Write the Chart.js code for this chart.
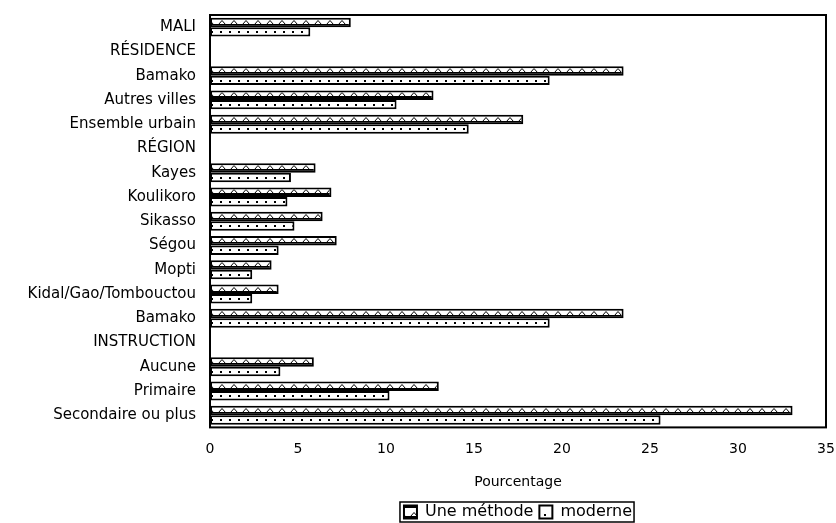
<!DOCTYPE html>
<html>
<head>
<meta charset="utf-8">
<script src="https://cdn.jsdelivr.net/npm/chart.js@4"></script>
<style>
  body { margin: 0; background: #fff; }
</style>
</head>
<body>
<canvas id="chart" width="836" height="523"></canvas>
<script>
// categories, de haut en bas
const categories = ['MALI', 'RÉSIDENCE', 'Bamako', 'Autres villes', 'Ensemble urbain', 'RÉGION',
    'Kayes', 'Koulikoro', 'Sikasso', 'Ségou', 'Mopti', 'Kidal/Gao/Tombouctou', 'Bamako',
    'INSTRUCTION', 'Aucune', 'Primaire', 'Secondaire ou plus'];

// pourcentages (null = ligne de titre)
const uneMethode = [8.0, null, 23.5, 12.7, 17.8, null, 6.0, 6.9, 6.4, 7.2, 3.5, 3.9, 23.5, null, 5.9, 13.0, 33.1];
const moderne = [5.7, null, 19.3, 10.6, 14.7, null, 4.6, 4.4, 4.8, 3.9, 2.4, 2.4, 19.3, null, 4.0, 10.2, 25.6];

const xTicks = [0, 5, 10, 15, 20, 25, 30, 35];

const FONT = 'DejaVu Sans';

// motif triangles pour "Une méthode"
function trianglePattern() {
    const c = document.createElement('canvas');
    c.width = 12; c.height = 10;
    const g = c.getContext('2d');
    g.fillStyle = '#fff';
    g.fillRect(0, 0, 12, 10);
    g.fillStyle = '#000';
    g.fillRect(0, 6, 12, 2);
    g.strokeStyle = '#000';
    g.lineWidth = 1;
    g.beginPath();
    g.moveTo(2.5, 6.5); g.lineTo(6, 2.5); g.lineTo(9.5, 6.5);
    g.stroke();
    return g.createPattern(c, 'repeat');
}

// motif pointillé pour "moderne"
function dotPattern() {
    const c = document.createElement('canvas');
    c.width = 9; c.height = 10;
    const g = c.getContext('2d');
    g.fillStyle = '#fff';
    g.fillRect(0, 0, 9, 10);
    g.fillStyle = '#000';
    g.fillRect(4, 4, 2, 2);
    return g.createPattern(c, 'repeat');
}

const patterns = [trianglePattern, dotPattern];

// recale chaque motif sur le haut de sa barre
const patternAlign = {
    id: 'patternAlign',
    afterLayout(chart) {
        // légende un peu plus bas, comme sur l'original
        chart.legend.top += 7;
        chart.legend.bottom += 7;
    },
    beforeDatasetsDraw(chart) {
        chart.data.datasets.forEach((ds, i) => {
            chart.getDatasetMeta(i).data.forEach(el => {
                if (el.x === undefined || !el.options) return;
                const p = patterns[i]();
                p.setTransform(new DOMMatrix().translate(0, Math.round(el.y - el.height / 2)));
                el.options = Object.assign({}, el.options, { backgroundColor: p });
            });
        });
    }
};

// cadre autour de la zone de tracé et de la légende
const boxPlugin = {
    id: 'boxPlugin',
    afterDraw(chart) {
        const ctx = chart.ctx;
        const a = chart.chartArea;
        ctx.save();
        ctx.strokeStyle = '#000';
        ctx.lineWidth = 2;
        ctx.strokeRect(a.left, a.top, a.right - a.left, a.bottom - a.top);
        const lg = chart.legend;
        if (lg && lg.legendHitBoxes.length) {
            const first = lg.legendHitBoxes[0];
            const last = lg.legendHitBoxes[lg.legendHitBoxes.length - 1];
            ctx.lineWidth = 1.5;
            ctx.strokeRect(first.left - 4, first.top - 2, last.left + last.width - first.left + 6, first.height + 4);
        }
        ctx.restore();
    }
};

new Chart(document.getElementById('chart'), {
    type: 'bar',
    data: {
        labels: categories,
        datasets: [
            {
                label: 'Une méthode',
                data: uneMethode,
                backgroundColor: trianglePattern(),
                borderColor: '#000',
                borderWidth: 2,
                borderSkipped: false
            },
            {
                label: 'moderne',
                data: moderne,
                backgroundColor: dotPattern(),
                borderColor: '#000',
                borderWidth: 2,
                borderSkipped: false
            }
        ]
    },
    options: {
        indexAxis: 'y',
        responsive: false,
        animation: false,
        layout: { padding: { top: 4, right: 0, bottom: 0 } },
        datasets: { bar: { categoryPercentage: 0.78, barPercentage: 1.0 } },
        scales: {
            x: {
                min: 0,
                max: 35,
                afterBuildTicks: scale => { scale.ticks = xTicks.map(v => ({ value: v })); },
                afterFit: scale => { scale.paddingRight = 10; },
                grid: { display: false },
                border: { display: false },
                ticks: { color: '#000', font: { family: FONT, size: 14 }, padding: 6 },
                title: { display: true, text: 'Pourcentage', color: '#000', font: { family: FONT, size: 14 }, padding: { top: 10, bottom: 0 } }
            },
            y: {
                grid: { display: false },
                border: { display: false },
                ticks: { color: '#000', font: { family: FONT, size: 15 }, padding: 6, autoSkip: false },
                afterFit: scale => { scale.width = 210; }
            }
        },
        plugins: {
            tooltip: { enabled: false },
            legend: {
                position: 'bottom',
                fullSize: false,
                labels: {
                    color: '#000',
                    font: { family: FONT, size: 16 },
                    boxWidth: 13,
                    boxHeight: 13,
                    padding: 6
                }
            }
        }
    },
    plugins: [patternAlign, boxPlugin]
});
</script>
</body>
</html>
